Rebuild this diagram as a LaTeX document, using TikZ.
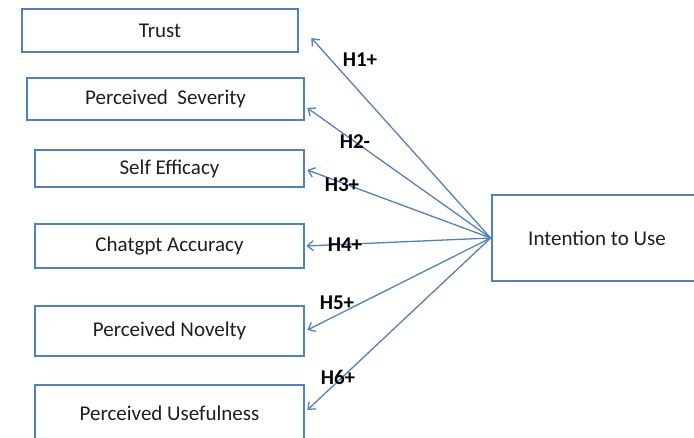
\documentclass[tikz,border=0pt]{standalone}
\usepackage{fontspec}
\setmainfont{Carlito}
\usetikzlibrary{arrows.meta}
\definecolor{boxblue}{RGB}{79,129,189}
\definecolor{txtgray}{RGB}{30,30,30}

\begin{document}
\begin{tikzpicture}[x=1pt,y=-1pt,
    var/.style={draw=boxblue, line width=2.7pt, rectangle, inner sep=0pt,
      text=txtgray, font=\fontsize{21}{24}\selectfont},
    hyp/.style={draw=boxblue, line width=1.3pt,
      -{Straight Barb[length=6pt,width=10pt]}},
    lab/.style={inner sep=0pt, font=\fontsize{21}{23}\selectfont\bfseries}]
  \useasboundingbox (0,0) rectangle (694,437);

  % Variables independientes
  \node[var, minimum width=276pt, minimum height=43pt] (trust) at (160,30.5) {Trust};
  \node[var, minimum width=277pt, minimum height=42pt] (severity) at (165.5,99) {Perceived\ \ Severity};
  \node[var, minimum width=269pt, minimum height=37pt] (efficacy) at (169.5,168.5) {Self Efficacy};
  \node[var, minimum width=269pt, minimum height=44pt] (accuracy) at (169.5,246) {Chatgpt Accuracy};
  \node[var, minimum width=269pt, minimum height=50pt] (novelty) at (169.5,331) {Perceived Novelty};
  \node[var, minimum width=269pt, minimum height=56pt] (usefulness) at (169.5,413) {Perceived Usefulness};

  % Variable dependiente
  \node[var, minimum width=210pt, minimum height=86pt] (intention) at (597,238) {Intention to Use};

  % Hipótesis
  \draw[hyp] (intention.west) -- ([shift={(12,7.5)}]trust.east);
  \draw[hyp] (intention.west) -- ([shift={(2,9)}]severity.east);
  \draw[hyp] (intention.west) -- ([shift={(2,1.5)}]efficacy.east);
  \draw[hyp] (intention.west) -- ([shift={(1,0)}]accuracy.east);
  \draw[hyp] (intention.west) -- ([shift={(2,-1)}]novelty.east);
  \draw[hyp] (intention.west) -- ([shift={(2,-3)}]usefulness.east);

  % Etiquetas
  \node[lab] (h1) at (360,60) {H1+};
  \node[lab] (h2) at (355,142) {H2-};
  \node[lab] (h3) at (342,185) {H3+};
  \node[lab] (h4) at (345,245) {H4+};
  \node[lab] (h5) at (337,303) {H5+};
  \node[lab] (h6) at (338,377) {H6+};
\end{tikzpicture}
\end{document}
